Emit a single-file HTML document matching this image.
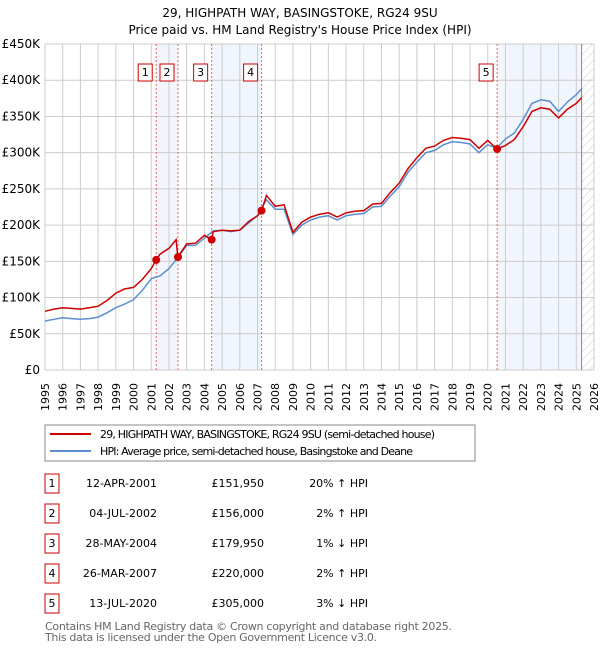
<!DOCTYPE html>
<html><head><meta charset="utf-8"><style>
body{margin:0;background:#fff;}
svg{display:block;font-family:"DejaVu Sans","Liberation Sans",sans-serif;}
</style></head><body>
<svg id="c" width="600" height="650">
<defs><pattern id="hatch" width="6" height="6" patternUnits="userSpaceOnUse" patternTransform="rotate(45)"><line x1="0" y1="0" x2="0" y2="6" stroke="#ccc" stroke-width="1"/></pattern></defs>
<text x="300" y="17" text-anchor="middle" font-size="12">29, HIGHPATH WAY, BASINGSTOKE, RG24 9SU</text>
<text x="300" y="34" text-anchor="middle" font-size="12">Price paid vs. HM Land Registry's House Price Index (HPI)</text>
<g id="plot"></g>
<rect x="45" y="425" width="430" height="36" fill="none" stroke="#888"/>
<line x1="50" y1="434" x2="91" y2="434" stroke="#cc0000" stroke-width="2"/>
<text x="100" y="438" font-size="11" textLength="335">29, HIGHPATH WAY, BASINGSTOKE, RG24 9SU (semi-detached house)</text>
<line x1="50" y1="451" x2="91" y2="451" stroke="#5b8fd0" stroke-width="2"/>
<text x="100" y="455" font-size="11" textLength="313">HPI: Average price, semi-detached house, Basingstoke and Deane</text>
<g id="table" font-size="11"></g>
<text x="45" y="630" font-size="11" fill="#666" textLength="407">Contains HM Land Registry data © Crown copyright and database right 2025.</text>
<text x="45" y="641" font-size="11" fill="#666" textLength="332">This data is licensed under the Open Government Licence v3.0.</text>
</svg>
<script>
const hpiYears=[1995,1995.5,1996,1996.5,1997,1997.5,1998,1998.5,1999,1999.5,2000,2000.5,2001,2001.5,2002,2002.5,2003,2003.5,2004,2004.5,2005,2005.5,2006,2006.5,2007,2007.5,2008,2008.5,2009,2009.5,2010,2010.5,2011,2011.5,2012,2012.5,2013,2013.5,2014,2014.5,2015,2015.5,2016,2016.5,2017,2017.5,2018,2018.5,2019,2019.5,2020,2020.5,2021,2021.5,2022,2022.5,2023,2023.5,2024,2024.5,2025,2025.3];
const hpiValues=[67.6,70,72,71,70,71,73,79,86,91,97,110,126,130,140,155,172,172,182,192,193,191,193,203,213,235,222,222,187,200,207,211,213,207,213,215,216,225,226,240,253,273,287,300,303,311,315,314,312,300,311,306,319,327,346,368,373,371,357,370,380,388];
const priceYears=[1995,1995.5,1996,1996.5,1997,1997.5,1998,1998.5,1999,1999.5,2000,2000.5,2001,2001.28,2001.5,2002,2002.4,2002.5,2003,2003.5,2004,2004.4,2004.5,2005,2005.5,2006,2006.5,2007,2007.23,2007.5,2008,2008.5,2009,2009.5,2010,2010.5,2011,2011.5,2012,2012.5,2013,2013.5,2014,2014.5,2015,2015.5,2016,2016.5,2017,2017.5,2018,2018.5,2019,2019.5,2020,2020.53,2021,2021.5,2022,2022.5,2023,2023.5,2024,2024.5,2025,2025.3];
const priceValues=[81,84,86,85,84,86,88,96,106,112,114,125,140,152,160,168,180,156,174,175,186,180,191,193,192,193,205,213,220,241,226,228,190,204,211,215,217,211,217,219,220,229,230,245,258,278,293,306,309,317,321,320,318,306,317,305,310,318,336,357,362,360,348,360,368,376];
const saleLabels=["1","2","3","4","5"];
const saleYears=[2001.28,2002.51,2004.41,2007.23,2020.53];
const salePrices=[151.95,156,179.95,220,305];
const saleDates=["12-APR-2001","04-JUL-2002","28-MAY-2004","26-MAR-2007","13-JUL-2020"];
const salePriceText=["£151,950","£156,000","£179,950","£220,000","£305,000"];
const saleHpiText=["20% ↑ HPI","2% ↑ HPI","1% ↓ HPI","2% ↑ HPI","3% ↓ HPI"];
const yTicks=[0,50,100,150,200,250,300,350,400,450];
const yTickLabels=["£0","£50K","£100K","£150K","£200K","£250K","£300K","£350K","£400K","£450K"];
const xTicks=[1995,1996,1997,1998,1999,2000,2001,2002,2003,2004,2005,2006,2007,2008,2009,2010,2011,2012,2013,2014,2015,2016,2017,2018,2019,2020,2021,2022,2023,2024,2025,2026];
const dataEnd=2025.3;

const NS="http://www.w3.org/2000/svg";
const L=45,R=594,T=44,B=370;
const xs=y=>L+(y-1995)/(2026-1995)*(R-L);
const ys=v=>B-v/450*(B-T);
const plot=document.getElementById('plot');
function mk(tag,attrs,parent){const e=document.createElementNS(NS,tag);for(const k in attrs)e.setAttribute(k,attrs[k]);(parent||plot).appendChild(e);return e;}

for(const [a,b] of [[0,1],[2,3]]){
  const r=mk('rect',{x:xs(saleYears[a]),y:T,width:xs(saleYears[b])-xs(saleYears[a]),height:B-T,fill:'#eef3fc',opacity:0.8});
  
  
}
const r5=mk('rect',{x:xs(saleYears[4]),y:T,width:xs(dataEnd)-xs(saleYears[4]),height:B-T,fill:'#eef3fc',opacity:0.8});


const hz=mk('rect',{x:xs(dataEnd),y:T,width:R-xs(dataEnd),height:B-T,fill:'url(#hatch)'});



xTicks.forEach(t=>{
  const g=mk('line',{x1:xs(t),x2:xs(t),y1:T,y2:B,stroke:'#ccc','stroke-width':1});
  
  
  const x=xs(t)+4;
  const tx=mk('text',{x:x,y:383,'text-anchor':'end','font-size':11,transform:`rotate(-90 ${x} 383)`});
  tx.textContent=t;
  
  
});
yTicks.forEach((v,i)=>{
  const g=mk('line',{x1:L,x2:R,y1:ys(v),y2:ys(v),stroke:'#ccc','stroke-width':1});
  
  
  const tx=mk('text',{x:40,y:ys(v)+4,'text-anchor':'end','font-size':12});
  tx.textContent=yTickLabels[i];
  
  
});
const el=mk('line',{x1:xs(dataEnd),x2:xs(dataEnd),y1:T,y2:B,stroke:'#888','stroke-width':1});



saleYears.forEach((y,i)=>{
  const l=mk('line',{x1:xs(y),x2:xs(y),y1:T,y2:B,stroke:'#f06060','stroke-width':1,'stroke-dasharray':'2,2'});
  
  
});

function path(xa,va){return xa.map((x,i)=>(i?'L':'M')+xs(x).toFixed(1)+','+ys(va[i]).toFixed(1)).join('');}
const hp=mk('path',{d:path(hpiYears,hpiValues),fill:'none',stroke:'#5b8fd0','stroke-width':1.5});


const pp=mk('path',{d:path(priceYears,priceValues),fill:'none',stroke:'#cc0000','stroke-width':1.5});



saleYears.forEach((y,i)=>{
  const c=mk('circle',{cx:xs(y),cy:ys(salePrices[i]),r:4,fill:'#cc0000'});
  
  
  const bx=xs(y)-11;
  const b=mk('rect',{x:bx-7,y:64,width:14,height:17,fill:'#fff',stroke:'#cc0000','stroke-width':1});
  
  
  const t=mk('text',{x:bx,y:76,'text-anchor':'middle','font-size':11});
  t.textContent=saleLabels[i];
  
  
});

const tb=document.getElementById('table');
saleLabels.forEach((s,i)=>{
  const cy=483+i*30;
  const b=mk('rect',{x:45,y:cy-9,width:14,height:19,fill:'#fff',stroke:'#cc0000'},tb);
  
  
  const n=mk('text',{x:52,y:cy+4,'text-anchor':'middle'},tb);n.textContent=s;
  
  
  const d=mk('text',{x:157,y:cy+4,'text-anchor':'end'},tb);d.textContent=saleDates[i];
  
  
  const p=mk('text',{x:264,y:cy+4,'text-anchor':'end'},tb);p.textContent=salePriceText[i];
  
  
  const h=mk('text',{x:368,y:cy+4,'text-anchor':'end'},tb);h.textContent=saleHpiText[i];
  
  
});
</script>
</body></html>
